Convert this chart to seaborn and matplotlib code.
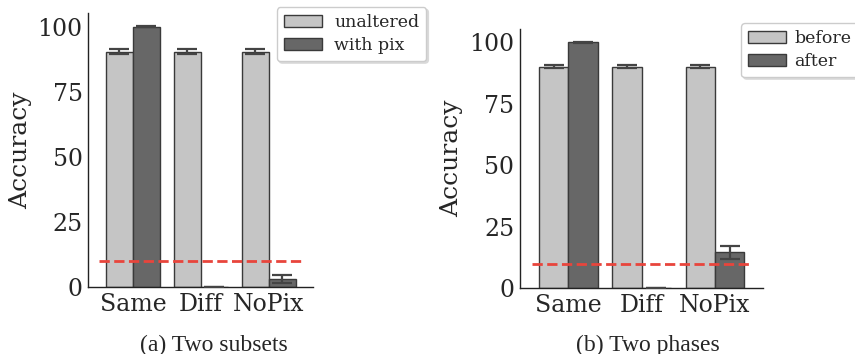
import pandas as pd
import seaborn as sns
import numpy as np
import matplotlib.pyplot as plt

# values
categories = ['Same', 'Diff', 'NoPix']

subsets_levels = ['unaltered', 'with pix']
subsets_unaltered = [90.5, 90.5, 90.5]
subsets_unaltered_err = [1.0, 1.0, 1.0]
subsets_withpix = [100.0, 0.2, 3.2]
subsets_withpix_err = [0.2, 0.0, 1.5]

phases_levels = ['before', 'after']
phases_before = [90.0, 90.0, 90.0]
phases_before_err = [0.5, 0.5, 0.5]
phases_after = [100.0, 0.2, 14.5]
phases_after_err = [0.2, 0.0, 2.7]

chance_level = 10
yticks = [0, 25, 50, 75, 100]

light = '#c5c5c5'
dark = '#676767'

sns.set_theme(style='white')
plt.rcParams['font.family'] = ['DejaVu Serif']


def plot_panel(ax, levels, first, first_err, second, second_err, leg_anchor,
               leg_size, text_pad):
    data = pd.DataFrame({
        'cond': categories * 2,
        'group': [levels[0]] * 3 + [levels[1]] * 3,
        'acc': first + second,
    })
    sns.barplot(data=data, x='cond', y='acc', hue='group', order=categories,
                hue_order=levels, palette=[light, dark], errorbar=None,
                edgecolor='#3a3a3a', linewidth=1.0, saturation=1, ax=ax)
    for cont, err in zip(ax.containers, [first_err, second_err]):
        xs = [b.get_x() + b.get_width() / 2 for b in cont]
        ys = [b.get_height() for b in cont]
        ax.errorbar(xs, ys, yerr=err, fmt='none', ecolor='#444444',
                    elinewidth=1.6, capsize=7, capthick=1.6, zorder=5)
    ax.hlines(chance_level, -0.5, 2.5, colors='#e8453c', linestyles='--',
              linewidth=2.0, zorder=6)
    ax.set_xlim(-0.66, 2.65)
    ax.set_ylim(0, 105.3)
    ax.set_yticks(yticks)
    ax.set_xlabel('')
    ax.set_ylabel('Accuracy', fontsize=18)
    ax.tick_params(axis='both', labelsize=17, length=0, pad=4)
    sns.despine(ax=ax)
    for s in ['left', 'bottom']:
        ax.spines[s].set_color('#222222')
        ax.spines[s].set_linewidth(1.0)
    leg = ax.legend(loc='upper left', bbox_to_anchor=leg_anchor, fontsize=leg_size,
                    frameon=True, fancybox=True,
                    shadow={'color': '0.85', 'alpha': 1, 'ox': 1.5, 'oy': -1.5},
                    handlelength=2.2, handletextpad=text_pad, borderpad=0.4,
                    labelspacing=0.35, borderaxespad=0)
    leg.get_frame().set_edgecolor('#cccccc')
    leg.set_zorder(10)
    return ax


fig = plt.figure(figsize=(8.55, 3.54), dpi=100)
ax1 = fig.add_axes([0.103, 0.189, 0.263, 0.774])
ax2 = fig.add_axes([0.608, 0.186, 0.284, 0.732])

plot_panel(ax1, subsets_levels, subsets_unaltered, subsets_unaltered_err,
           subsets_withpix, subsets_withpix_err, (0.84, 1.022), 12.5, 0.7)
plot_panel(ax2, phases_levels, phases_before, phases_before_err,
           phases_after, phases_after_err, (0.912, 1.023), 12.5, 0.45)

fig.text(0.250, 0.025, '(a) Two subsets', ha='center', va='center',
         fontsize=17, family='Liberation Serif')
fig.text(0.758, 0.025, '(b) Two phases', ha='center', va='center',
         fontsize=17, family='Liberation Serif')

plt.savefig('out.png', dpi=100)
plt.close()
